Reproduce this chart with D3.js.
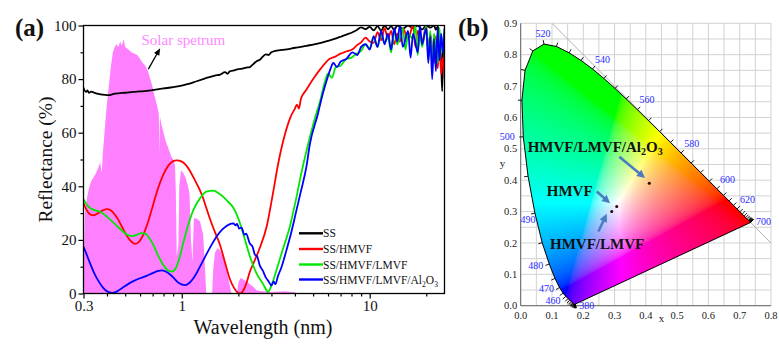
<!DOCTYPE html>
<html><head><meta charset="utf-8">
<script src="https://cdn.jsdelivr.net/npm/d3@7"></script>
<style>
body{margin:0;background:#fff}
svg{display:block}
</style>
</head><body>
<svg id="chart" width="779" height="345"></svg>
<script>
// ---------------- Panel (a) data ----------------
const seriesNames = ["SS","SS/HMVF","SS/HMVF/LMVF","SS/HMVF/LMVF/Al2O3"];
const seriesColors = ["#000000","#ff0000","#00e800","#0000ff"];
const yTicksA = [0,20,40,60,80,100];
const yMinorA = [10,30,50,70,90];
const xTicksA = [0.3,1,10];
const xMinorA = [0.4,0.5,0.6,0.7,0.8,0.9,2,3,4,5,6,7,8,9,20];

const solarData = [[0.30,0],[0.303,20],[0.305,30],[0.31,34],[0.32,39],[0.33,42],[0.35,45],[0.36,47],[0.368,49],[0.375,45],[0.38,52],[0.39,62],[0.40,71],[0.41,78],[0.42,85],[0.43,90],[0.44,92],[0.45,93],[0.46,92],[0.47,94],[0.48,92.5],[0.49,95],[0.50,92],[0.52,91],[0.54,90],[0.56,89.5],[0.58,89],[0.60,87.5],[0.62,86],[0.64,85],[0.66,83],[0.68,80],[0.70,77],[0.72,73],[0.74,70],[0.755,67],[0.76,52],[0.765,66],[0.78,63],[0.80,60],[0.82,57],[0.85,54],[0.88,51],[0.90,50],[0.92,48],[0.93,38],[0.94,14],[0.96,18],[0.97,40],[0.99,46],[1.02,45],[1.05,43],[1.08,40],[1.10,37],[1.12,20],[1.14,12],[1.16,28],[1.20,28],[1.25,27],[1.30,22],[1.33,9],[1.35,0],[1.45,0],[1.47,9],[1.50,15],[1.55,17],[1.60,16],[1.65,14],[1.70,11],[1.75,7],[1.80,3],[1.84,0],[1.97,0],[2.00,4],[2.05,5.7],[2.10,5.5],[2.20,4.5],[2.30,3.5],[2.40,2.5],[2.50,1.2],[2.60,0.9],[3.00,0.6],[3.50,0.8],[4.00,0.5],[4.20,0]];

const ssData = [[0.30,76.8],[0.305,75.6],[0.31,75.2],[0.315,75.8],[0.32,74.9],[0.33,75.3],[0.34,75.0],[0.35,74.7],[0.37,74.3],[0.39,74.1],[0.41,74.0],[0.43,74.4],[0.46,74.7],[0.50,74.9],[0.55,75.2],[0.60,75.4],[0.65,75.6],[0.70,75.9],[0.80,76.5],[0.90,77.0],[1.0,77.6],[1.1,78.3],[1.2,79.2],[1.3,80.0],[1.4,80.7],[1.5,81.3],[1.6,81.7],[1.7,82.6],[1.75,82.0],[1.8,82.9],[1.9,83.3],[2.0,83.7],[2.1,83.9],[2.2,84.3],[2.3,84.5],[2.4,85.6],[2.5,86.7],[2.6,87.2],[2.7,88.4],[2.8,89.2],[2.9,89.0],[3.0,90.0],[3.2,90.6],[3.4,90.9],[3.7,91.2],[4.0,91.7],[4.3,92.0],[4.6,92.4],[5.0,92.9],[5.5,93.5],[6.0,94.3],[6.5,95.0],[7.0,95.8],[7.5,96.6],[8.0,97.3],[8.5,98.2],[9.0,99.3],[9.5,98.6],[10,99.5],[10.5,98.2],[11,99.8],[11.5,98.0],[12,100],[12.5,98.6],[13,99.8],[13.5,98.3],[14,100],[15,98.8],[16,100],[17,99.0],[18,100],[19,98.5],[20,100],[21,99.2],[22,100],[22.5,98.4],[23,99.6],[23.5,96.5],[24,86],[24.3,75.5],[24.6,93],[25,97]];

const hmvfData = [[0.30,33.7],[0.31,31.5],[0.32,30.0],[0.33,29.3],[0.34,29.2],[0.36,30.0],[0.38,31.0],[0.40,31.5],[0.42,31.0],[0.45,28.5],[0.48,25.0],[0.51,21.5],[0.54,19.3],[0.565,18.5],[0.59,19.2],[0.62,21.5],[0.66,26.5],[0.70,32.5],[0.75,39.5],[0.80,44.5],[0.85,47.8],[0.90,49.4],[0.94,49.7],[1.0,49.2],[1.05,48.0],[1.1,46.0],[1.15,43.5],[1.2,41.0],[1.25,38.5],[1.3,35.5],[1.35,32.0],[1.41,28.0],[1.5,23.0],[1.6,18.0],[1.7,11.5],[1.8,5.5],[1.9,2.0],[1.98,0.4],[2.04,0],[2.1,0.6],[2.2,3.5],[2.3,8.0],[2.45,12.5],[2.6,17.0],[2.83,25.0],[3.05,37.0],[3.26,48.5],[3.54,59.4],[3.8,66.0],[4.0,69.0],[4.1,70.5],[4.2,69.0],[4.3,72.5],[4.6,76.0],[5.0,80.0],[5.5,84.0],[6.1,87.5],[6.6,88.5],[7.0,89.5],[7.5,90.3],[8.15,91.2],[8.5,92.5],[9.0,93.7],[9.5,95.5],[10,94],[10.5,93.5],[11,97.5],[11.5,94.5],[12,99],[12.5,95],[13,98],[13.5,93],[14,97],[14.5,94],[15,99],[16,95],[17,100],[17.5,92],[18,98],[19,94],[20,100],[20.5,90],[21,97],[22,86],[22.5,96],[23,84],[23.5,94],[24,82],[24.5,88],[25,80]];

const lmvfData = [[0.30,35.2],[0.31,33.5],[0.32,32.3],[0.34,31.2],[0.37,30.4],[0.40,28.6],[0.44,26.0],[0.48,23.5],[0.52,21.7],[0.55,21.5],[0.58,22.0],[0.61,22.5],[0.64,22.3],[0.67,20.8],[0.71,17.8],[0.75,14.0],[0.80,10.5],[0.85,8.5],[0.89,8.2],[0.93,9.5],[0.97,13.0],[1.02,19.0],[1.08,25.5],[1.15,31.0],[1.25,35.5],[1.35,38.0],[1.47,38.4],[1.6,37.0],[1.75,34.5],[1.88,32.0],[2.0,28.0],[2.15,21.0],[2.3,14.0],[2.5,7.5],[2.71,3.5],[2.88,0.6],[3.0,3.0],[3.19,8.7],[3.45,16.5],[3.76,25.0],[4.05,35.0],[4.33,45.0],[4.6,53.0],[5.0,63.0],[5.5,73.0],[5.8,79.5],[6.0,82.0],[6.3,80.5],[6.6,84.5],[7.0,85.0],[7.5,87.5],[8.0,88.0],[8.5,89.5],[9.0,90.5],[9.5,93],[10,91.5],[10.5,95.5],[11,92],[11.5,97],[12,93.5],[12.5,96],[13,90],[13.5,98],[14,93],[15,99],[15.5,91],[16,97],[17,95],[17.5,100],[18,89],[18.5,97],[19,92],[20,100],[20.5,88],[21,98],[21.5,85],[22,97],[23,86],[23.5,99],[24,90],[25,98]];

const al2o3Data = [[0.30,17.5],[0.31,15.0],[0.32,12.5],[0.34,8.0],[0.36,4.7],[0.38,2.3],[0.40,0.8],[0.425,0.2],[0.45,0.7],[0.48,2.0],[0.52,3.6],[0.56,4.8],[0.60,5.7],[0.65,6.6],[0.70,7.6],[0.75,8.4],[0.78,8.6],[0.82,8.2],[0.87,7.0],[0.92,5.3],[0.97,3.8],[1.04,3.1],[1.1,4.0],[1.17,6.3],[1.25,10.0],[1.35,14.5],[1.45,18.5],[1.53,21.2],[1.65,24.0],[1.78,25.7],[1.88,26.2],[1.93,25.4],[1.97,26.0],[2.02,24.2],[2.08,24.6],[2.15,22.0],[2.2,22.3],[2.3,18.7],[2.38,17.5],[2.45,14.5],[2.52,13.8],[2.6,10.5],[2.7,8.5],[2.8,6.0],[2.9,4.5],[3.0,3.0],[3.08,4.5],[3.15,3.5],[3.25,6.5],[3.4,10.0],[3.6,16.0],[3.8,22.0],[4.08,31.2],[4.3,38.0],[4.61,47.5],[4.8,55.6],[5.3,67.0],[5.6,74.0],[5.89,79.3],[6.2,84.0],[6.4,86.0],[6.7,84.5],[7.0,86.5],[7.5,87.5],[8.1,90.0],[8.6,89.0],[9.0,92.0],[9.5,93],[10,91],[10.5,96],[11,92],[11.5,98],[12,93],[12.5,97],[13,91],[13.5,99],[14,94],[14.5,100],[15,92],[16,98],[16.5,88],[17,97],[18,90],[18.5,100],[19,93],[20,99],[20.5,86],[21,96],[21.5,80],[22,95],[22.5,83],[23,99],[23.5,87],[24,97],[24.5,90],[25,99]];

const allSeries = [ssData, hmvfData, lmvfData, al2o3Data];

// ---------------- Panel (b) data ----------------
const locusWl = [380,385,390,395,400,405,410,415,420,425,430,435,440,445,450,455,460,465,470,475,480,485,490,495,500,505,510,515,520,525,530,535,540,545,550,555,560,565,570,575,580,585,590,595,600,605,610,615,620,625,630,635,640,645,650,655,660,665,670,675,680,685,690,695,700];
const locusX = [0.1741,0.1740,0.1738,0.1736,0.1733,0.1730,0.1726,0.1721,0.1714,0.1703,0.1689,0.1669,0.1644,0.1611,0.1566,0.1510,0.1440,0.1355,0.1241,0.1096,0.0913,0.0687,0.0454,0.0235,0.0082,0.0039,0.0139,0.0389,0.0743,0.1142,0.1547,0.1929,0.2296,0.2658,0.3016,0.3373,0.3731,0.4087,0.4441,0.4788,0.5125,0.5448,0.5752,0.6029,0.6270,0.6482,0.6658,0.6801,0.6915,0.7006,0.7079,0.7140,0.7190,0.7230,0.7260,0.7283,0.7300,0.7311,0.7320,0.7327,0.7334,0.7340,0.7344,0.7346,0.7347];
const locusY = [0.0050,0.0050,0.0049,0.0049,0.0048,0.0048,0.0048,0.0048,0.0051,0.0058,0.0069,0.0086,0.0109,0.0138,0.0177,0.0227,0.0297,0.0399,0.0578,0.0868,0.1327,0.2007,0.2950,0.4127,0.5384,0.6548,0.7502,0.8120,0.8338,0.8262,0.8059,0.7816,0.7543,0.7243,0.6923,0.6589,0.6245,0.5896,0.5547,0.5202,0.4866,0.4544,0.4242,0.3965,0.3725,0.3514,0.3340,0.3197,0.3083,0.2993,0.2920,0.2859,0.2809,0.2770,0.2740,0.2717,0.2700,0.2689,0.2680,0.2673,0.2666,0.2660,0.2656,0.2654,0.2653];
const locusLabels = [380,460,470,480,490,500,520,540,560,580,600,620,700];
const chromaNames = ["HMVF/LMVF/Al2O3","HMVF","HMVF/LMVF"];
const chromaX = [0.411,0.307,0.291];
const chromaY = [0.390,0.316,0.300];
const xTicksB = [0,0.1,0.2,0.3,0.4,0.5,0.6,0.7,0.8];
const yTicksB = [0,0.1,0.2,0.3,0.4,0.5,0.6,0.7,0.8,0.9];

// ---------------- drawing ----------------
const SERIF = 'Liberation Serif';
const svg = d3.select("#chart");

// ===== Panel (a) =====
const xA = d3.scaleLog().domain([0.3,25]).range([83.5,444.5]);
const yA = d3.scaleLinear().domain([0,100]).range([293.5,25.5]);
const gA = svg.append("g");
svg.append("defs").append("clipPath").attr("id","clipA").append("rect")
  .attr("x",xA.range()[0]).attr("y",yA.range()[1])
  .attr("width",xA.range()[1]-xA.range()[0]).attr("height",yA.range()[0]-yA.range()[1]);
const plotA = gA.append("g").attr("clip-path","url(#clipA)");

plotA.append("path").datum(solarData)
  .attr("d", d3.area().x(d=>xA(d[0])).y0(yA(0)).y1(d=>yA(d[1])))
  .attr("fill","#ff80ff");

const lineA = d3.line().x(d=>xA(d[0])).y(d=>yA(d[1])).curve(d3.curveMonotoneX);
allSeries.forEach((s,i)=>{
  plotA.append("path").datum(s).attr("d",lineA).attr("fill","none")
    .attr("stroke",seriesColors[i]).attr("stroke-width",1.8).attr("stroke-linejoin","round");
});

function styleAxis(g, fs){
  g.attr("font-size",fs).attr("font-family",null);
  g.select(".domain").remove();
  g.selectAll("line").attr("stroke","#000").attr("stroke-width",1.2);
  g.selectAll("text").attr("fill","#111");
}
gA.append("g").attr("transform",`translate(${xA.range()[0]},0)`)
  .call(d3.axisLeft(yA).tickValues(yTicksA).tickSize(5).tickPadding(2).tickFormat(d3.format("d")))
  .call(g=>styleAxis(g,15));
gA.append("g").attr("transform",`translate(${xA.range()[0]},0)`)
  .call(d3.axisLeft(yA).tickValues(yMinorA).tickSize(3).tickFormat(""))
  .call(g=>styleAxis(g,15));
gA.append("g").attr("transform",`translate(0,${yA.range()[0]})`)
  .call(d3.axisBottom(xA).tickValues(xTicksA).tickSize(5).tickPadding(1.5).tickFormat(d=>String(d)))
  .call(g=>styleAxis(g,15));
gA.append("g").attr("transform",`translate(0,${yA.range()[0]})`)
  .call(d3.axisBottom(xA).tickValues(xMinorA).tickSize(3).tickFormat(""))
  .call(g=>styleAxis(g,15));

gA.append("rect").attr("x",xA.range()[0]).attr("y",yA.range()[1])
  .attr("width",xA.range()[1]-xA.range()[0]).attr("height",yA.range()[0]-yA.range()[1])
  .attr("fill","none").attr("stroke","#000").attr("stroke-width",1.3);

gA.append("text").attr("transform",`translate(52,${(yA.range()[0]+yA.range()[1])/2}) rotate(-90)`)
  .attr("text-anchor","middle").attr("font-size",19.5).attr("fill","#111").text("Reflectance (%)");
gA.append("text").attr("x",263).attr("y",334)
  .attr("text-anchor","middle").attr("font-size",20).attr("fill","#111").text("Wavelength (nm)");

gA.append("text").attr("x",141.5).attr("y",45).attr("font-size",15).attr("fill","#ff88ff").text("Solar spetrum");
function arrow(g, x1,y1,x2,y2,color,w,hl,hw){
  const dx=x2-x1, dy=y2-y1, L=Math.hypot(dx,dy), ux=dx/L, uy=dy/L;
  const bx=x2-ux*hl, by=y2-uy*hl;
  g.append("line").attr("x1",x1).attr("y1",y1).attr("x2",bx+ux*1).attr("y2",by+uy*1)
    .attr("stroke",color).attr("stroke-width",w);
  g.append("path").attr("d",`M${x2},${y2}L${bx-uy*hw},${by+ux*hw}L${bx+uy*hw},${by-ux*hw}Z`).attr("fill",color);
}
arrow(gA, xA(0.664), yA(83.7), xA(0.767), yA(91.5), "#000", 1.3, 7, 3);

const legY = [233.3, 249, 264.5, 279.5];
seriesNames.forEach((n,i)=>{
  gA.append("line").attr("x1",299).attr("x2",323).attr("y1",legY[i]).attr("y2",legY[i])
    .attr("stroke",seriesColors[i]).attr("stroke-width",2.4);
  const t = gA.append("text").attr("x",323).attr("y",legY[i]+4).attr("font-size",11.5).attr("fill","#111");
  const m = n.match(/^(.*Al)2O3$/);
  if(m){
    t.append("tspan").text(m[1]);
    t.append("tspan").attr("font-size",7.5).attr("dy",3).text("2");
    t.append("tspan").attr("dy",-3).text("O");
    t.append("tspan").attr("font-size",7.5).attr("dy",3).text("3");
  } else t.text(n);
});

svg.append("text").attr("x",15).attr("y",36).attr("font-size",25).attr("font-weight","bold").attr("fill","#111").text("(a)");
svg.append("text").attr("x",458).attr("y",36).attr("font-size",25).attr("font-weight","bold").attr("fill","#111").text("(b)");

// ===== Panel (b) =====
const xB = d3.scaleLinear().domain([0,0.8]).range([520.7,771]);
const yB = d3.scaleLinear().domain([0,0.9]).range([305.7,23.3]);
const gB = svg.append("g");

const gridX = d3.range(0,0.8001,0.05), gridY = d3.range(0,0.9001,0.05);
gB.selectAll(".gx").data(gridX).join("line").attr("x1",d=>xB(d)).attr("x2",d=>xB(d))
  .attr("y1",yB(0)).attr("y2",yB(0.9)).attr("stroke","#d2d2d2").attr("stroke-width",1);
gB.selectAll(".gy").data(gridY).join("line").attr("y1",d=>yB(d)).attr("y2",d=>yB(d))
  .attr("x1",xB(0)).attr("x2",xB(0.8)).attr("stroke","#d2d2d2").attr("stroke-width",1);
gB.append("line").attr("x1",xB(0.1)).attr("y1",yB(0.9)).attr("x2",xB(0.8)).attr("y2",yB(0.2))
  .attr("stroke","#b0b0b0").attr("stroke-width",1);

const locusPts = locusWl.map((w,i)=>[xB(locusX[i]), yB(locusY[i])]);
(function(){
  const x0=Math.floor(xB(0)), x1=Math.ceil(xB(0.8)), y0=Math.floor(yB(0.9)), y1=Math.ceil(yB(0));
  const W=x1-x0, H=y1-y0;
  const cv=document.createElement("canvas"); cv.width=W; cv.height=H;
  const ctx=cv.getContext("2d"); const img=ctx.createImageData(W,H);
  const gam=c=> c<=0.0031308 ? 12.92*c : 1.055*Math.pow(c,1/2.4)-0.055;
  for(let j=0;j<H;j++){
    for(let i=0;i<W;i++){
      const px=x0+i+0.5, py=y0+j+0.5;
      if(!d3.polygonContains(locusPts,[px,py])) continue;
      const cx=xB.invert(px), cy=yB.invert(py);
      if(cy<=0.001) continue;
      const X=cx/cy, Y=1, Z=(1-cx-cy)/cy;
      let r= 3.2406*X-1.5372*Y-0.4986*Z;
      let g=-0.9689*X+1.8758*Y+0.0415*Z;
      let b= 0.0557*X-0.2040*Y+1.0570*Z;
      r=Math.max(0,r); g=Math.max(0,g); b=Math.max(0,b);
      const m=Math.max(r,g,b)||1;
      const k=(j*W+i)*4;
      img.data[k]=Math.round(255*gam(r/m));
      img.data[k+1]=Math.round(255*gam(g/m));
      img.data[k+2]=Math.round(255*gam(b/m));
      img.data[k+3]=255;
    }
  }
  ctx.putImageData(img,0,0);
  gB.append("image").attr("href",cv.toDataURL()).attr("x",x0).attr("y",y0).attr("width",W).attr("height",H);
})();

gB.append("line").attr("x1",xB(0)).attr("x2",xB(0)).attr("y1",yB(0)).attr("y2",yB(0.9)).attr("stroke","#666").attr("stroke-width",1);
gB.append("line").attr("x1",xB(0)).attr("x2",xB(0.8)).attr("y1",yB(0)).attr("y2",yB(0)).attr("stroke","#666").attr("stroke-width",1);
gB.selectAll(".tyb").data(yTicksB).join("text").attr("x",xB(0)-3.5).attr("y",d=>yB(d)+3.6)
  .attr("text-anchor","end").attr("font-size",10.5).attr("fill","#222").text(d=>d.toFixed(1));
gB.selectAll(".txb").data(xTicksB).join("text").attr("x",d=>xB(d)).attr("y",319)
  .attr("text-anchor","middle").attr("font-size",10.5).attr("fill","#222").text(d=>d.toFixed(1));
gB.append("text").attr("x",xB(0.45)).attr("y",322).attr("text-anchor","middle").attr("font-size",11).attr("fill","#222").text("x");
gB.append("text").attr("x",502.5).attr("y",yB(0.45)+2.5).attr("text-anchor","middle").attr("font-size",11).attr("fill","#222").text("y");

gB.append("path").attr("d", d3.line()(locusPts)+"Z").attr("fill","none").attr("stroke","#000").attr("stroke-width",1);

function normalAt(i){
  const a=locusPts[Math.max(0,i-1)], b=locusPts[Math.min(locusPts.length-1,i+1)];
  let tx=b[0]-a[0], ty=b[1]-a[1]; const L=Math.hypot(tx,ty)||1;
  return [ty/L, -tx/L];
}
locusPts.forEach((p,i)=>{
  const n=normalAt(i);
  gB.append("line").attr("x1",p[0]).attr("y1",p[1]).attr("x2",p[0]+n[0]*4).attr("y2",p[1]+n[1]*4)
    .attr("stroke","#000").attr("stroke-width",0.9);
});
const labelOffset = {380:[11.5,1],460:[-12.8,4.3],470:[-13,1.4],480:[-13.6,1.7],490:[-7,6.2],500:[-16,0],
  520:[-0.9,-10.3],540:[10,-9],560:[9.5,-9.7],580:[10.6,-9],600:[10.6,-8.8],620:[10.4,-9],700:[13,-0.7]};
locusLabels.forEach(w=>{
  const i=locusWl.indexOf(w), p=locusPts[i], o=labelOffset[w];
  gB.append("text").attr("x",p[0]+o[0]).attr("y",p[1]+o[1]+3.4)
    .attr("text-anchor","middle").attr("font-size",10).attr("fill","#2a2aff").text(w);
});

const labelDx=[-121.6,-70,-61.7], labelDy=[-31.6,-11,37.3];
const arrowFrom=[[-30,-26.6],[-20,-15],[-13.4,20]], arrowTo=[[-4.3,-5.3],[-6.7,-3.4],[-5,2.3]];
chromaNames.forEach((n,i)=>{
  const px=xB(chromaX[i]), py=yB(chromaY[i]);
  arrow(gB, px+arrowFrom[i][0], py+arrowFrom[i][1], px+arrowTo[i][0], py+arrowTo[i][1], "#4a7cc4", 2.6, 8, 4);
  gB.append("circle").attr("cx",px).attr("cy",py).attr("r",1.5).attr("fill","#200");
  const t=gB.append("text").attr("x",px+labelDx[i]).attr("y",py+labelDy[i]).attr("font-size",15)
    .attr("font-weight","bold").attr("fill","#111");
  const m=n.match(/^(.*Al)2O3$/);
  if(m){
    t.append("tspan").text(m[1]);
    t.append("tspan").attr("font-size",10).attr("dy",3.5).text("2");
    t.append("tspan").attr("dy",-3.5).text("O");
    t.append("tspan").attr("font-size",10).attr("dy",3.5).text("3");
  } else t.text(n);
});

// apply the serif family directly on every text element
svg.selectAll("text").attr("font-family", SERIF);
</script>
</body></html>
